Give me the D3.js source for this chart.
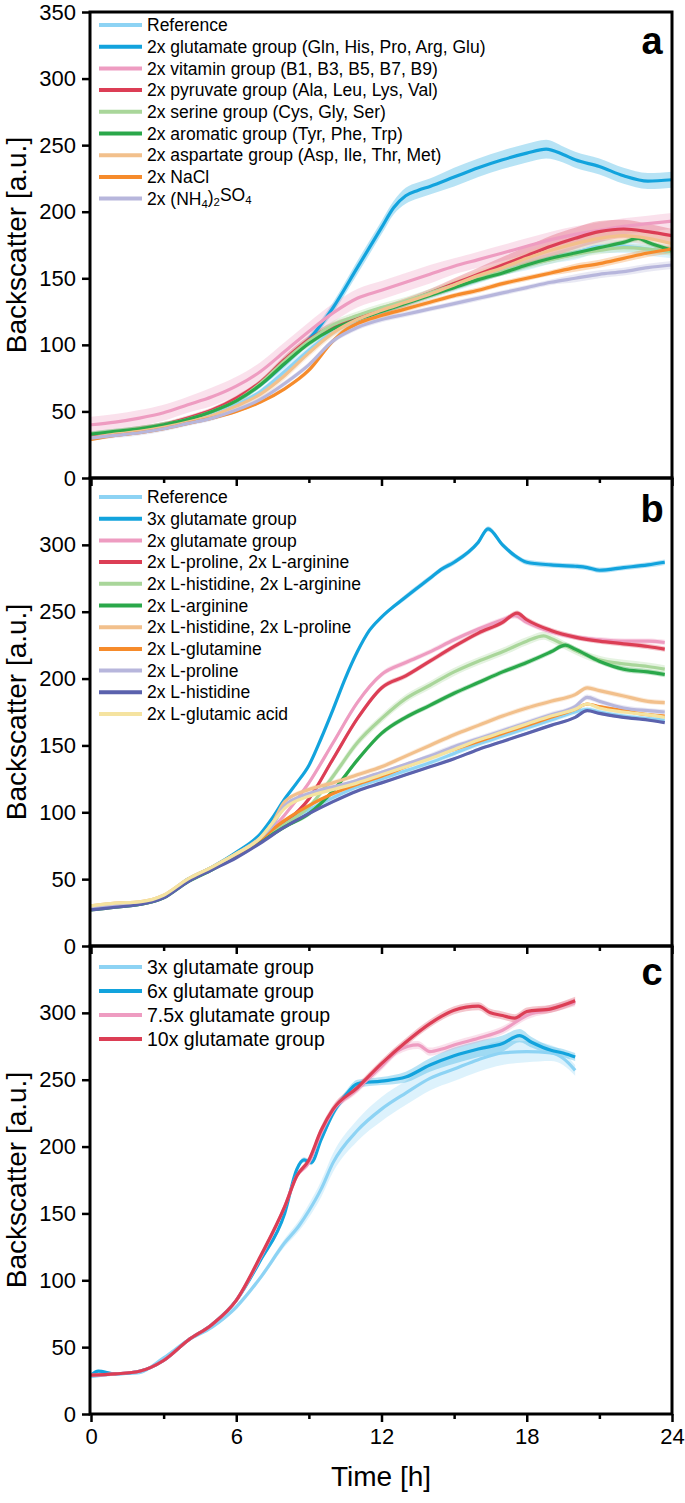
<!DOCTYPE html>
<html><head><meta charset="utf-8">
<script src="https://cdn.jsdelivr.net/npm/d3@7"></script>
<style>body{margin:0;background:#fff}svg{display:block;font-family:"Liberation Sans",Arial,sans-serif}</style>
</head><body><svg id="c" width="685" height="1503"></svg>
<script>
// ---------- DATA ----------
const xTicks = [0, 6, 12, 18, 24];
const xMinorTicks = [3, 9, 15, 21];
const yTicksA = [0, 50, 100, 150, 200, 250, 300, 350];
const yTicksBC = [0, 50, 100, 150, 200, 250, 300];
const panelLetters = ["a", "b", "c"];

// Panel a: [time h, backscatter, band half-width]
const aReference = [[0,32,2],[1,34,2],[2,36,2],[3,39,2],[4,43,2],[5,48,2],[6,55,2],[7,65,2],[8,80,3],[9,96,3],[10,110,3],[11,118,3],[12,125,3],[13,131,3],[14,137,3],[15,143,3],[16,149,3],[17,155,3],[18,160,4],[19,165,4],[20,169,5],[21,174,5],[22,174,5],[23,172,5],[24,170,5]];
const aGlutamate = [[0,32,2],[1,34,2],[2,36,2],[3,39,2],[4,44,2],[5,50,2],[6,58,2],[7,70,2],[8,86,3],[9,104,3],[10,128,4],[11,158,5],[12,188,5],[12.5,203,5],[13,212,6],[13.5,216,6],[14,219,6],[15,226,7],[16,233,7],[17,239,7],[18,244,7],[18.8,247,7],[19.5,243,6],[20,239,6],[21,234,6],[22,227,6],[23,223,6],[24,224,6]];
const aVitamin = [[0,40,6],[1,42,6],[2,45,6],[3,49,6],[4,55,6],[5,61,7],[6,69,7],[7,80,7],[8,95,7],[9,110,7],[10,124,7],[11,135,7],[12,141,7],[13,147,7],[14,153,7],[15,159,6],[16,164,6],[17,169,6],[18,174,6],[19,179,6],[20,183,6],[21,186,6],[22,189,6],[23,191,6],[24,193,6]];
const aPyruvate = [[0,31,2],[1,34,2],[2,37,2],[3,40,2],[4,45,2],[5,51,2],[6,60,2],[7,72,2],[8,89,3],[9,104,3],[10,114,3],[11,120,3],[12,126,3],[13,132,3],[14,139,3],[15,146,4],[16,153,5],[17,160,6],[18,167,7],[19,174,8],[20,180,8],[21,185,8],[22,187,7],[23,185,6],[24,182,5]];
const aSerine = [[0,33,2],[1,35,2],[2,37,2],[3,40,2],[4,44,2],[5,50,2],[6,58,2],[7,71,3],[8,88,3],[9,103,3],[10,115,3],[11,122,3],[12,128,3],[13,133,3],[14,139,3],[15,145,3],[16,150,3],[17,155,3],[18,160,3],[19,164,3],[20,168,3],[21,171,3],[22,173,3],[23,172,3],[24,170,3]];
const aAromatic = [[0,33,2],[1,35,2],[2,37,2],[3,40,2],[4,44,2],[5,50,2],[6,58,2],[7,70,2],[8,86,2],[9,101,2],[10,112,2],[11,119,2],[12,125,2],[13,131,2],[14,137,2],[15,143,2],[16,149,2],[17,154,2],[18,160,2],[19,165,2],[20,169,2],[21,173,2],[22,177,2],[22.6,180,2],[23,177,2],[24,171,2]];
const aAspartate = [[0,30,2],[1,33,2],[2,35,2],[3,38,2],[4,42,2],[5,47,2],[6,54,3],[7,63,3],[8,77,3],[9,94,3],[10,109,3],[11,119,3],[12,126,3],[13,132,3],[14,138,3],[15,145,4],[16,152,4],[17,158,4],[18,165,5],[19,171,5],[20,176,5],[21,180,5],[22,182,5],[23,180,5],[24,176,5]];
const aNaCl = [[0,29,1],[1,32,1],[2,34,1],[3,37,1],[4,41,1],[5,45,1],[6,50,1],[7,57,1],[8,67,1],[9,81,2],[10,103,2],[10.5,111,2],[11,116,2],[12,122,2],[13,127,2],[14,132,2],[15,137,2],[16,141,2],[17,146,2],[18,150,2],[19,154,2],[20,158,3],[21,161,3],[22,165,3],[23,169,3],[24,172,3]];
const aAmmonium = [[0,30,2],[1,32,2],[2,34,2],[3,37,2],[4,41,2],[5,45,2],[6,51,2],[7,59,2],[8,71,2],[9,85,2],[10,103,2],[11,113,2],[12,119,2],[13,123,2],[14,127,2],[15,131,2],[16,135,2],[17,139,2],[18,143,2],[19,147,2],[20,150,3],[21,153,3],[22,155,3],[23,158,3],[24,160,3]];

// Panel b
const bReference = [[0,29,1],[1,31,1],[2,32,1],[3,37,1],[4,49,1],[5,58,1],[6,68,1],[7,79,2],[8,92,2],[9,102,2],[10,111,2],[11,119,2],[12,125,2],[13,131,2],[14,137,2],[15,144,2],[16,151,2],[17,157,2],[18,163,2],[19,169,2],[20,175,2],[20.5,177,2],[21,175,2],[22,172,2],[23,170,2],[23.7,169,2]];
const bGlu3x = [[0,30,1],[1,31,1],[2,32,1],[3,37,1],[4,50,1],[5,59,1],[6,70,1],[7,84,1],[7.5,96,1],[8,110,1],[8.5,122,1],[9,135,1],[9.5,155,1],[10,177,1],[10.5,200,1],[11,220,1],[11.5,236,1],[12,246,1],[13,261,2],[14,275,2],[14.5,282,2],[15,287,2],[16,302,2],[16.4,312,2],[17,300,2],[17.5,292,2],[18,287,2],[19,285,2],[20,284,2],[20.5,283,2],[21,281,2],[22,283,2],[23,285,2],[23.7,287,2]];
const bGlu2x = [[0,29,1],[1,31,1],[2,32,1],[3,37,1],[4,49,1],[5,58,1],[6,68,1],[7,80,1],[7.5,88,1],[8,98,1],[9,122,2],[10,152,2],[11,182,2],[12,203,2],[13,212,2],[14,220,2],[15,229,2],[16,237,2],[17,244,2],[17.5,247,2],[18,242,2],[19,235,2],[20,231,2],[21,229,2],[22,228,2],[23,228,2],[23.7,227,2]];
const bProArg = [[0,28,1],[1,30,1],[2,32,1],[3,37,1],[4,49,1],[5,58,1],[6,68,1],[7,80,1],[8,92,1],[9,110,2],[10,140,2],[11,170,2],[12,193,2],[13,202,2],[14,213,2],[15,224,2],[16,234,2],[17,242,2],[17.6,249,2],[18,244,2],[19,236,2],[20,231,2],[21,228,2],[22,226,2],[23,224,2],[23.7,222,2]];
const bHisArg = [[0,29,1],[1,31,1],[2,32,1],[3,37,1],[4,49,1],[5,58,1],[6,68,1],[7,80,1],[8,91,2],[9,104,2],[10,127,3],[11,152,3],[12,170,3],[13,185,3],[14,195,3],[15,205,3],[16,213,3],[17,220,3],[18,228,3],[18.7,232,3],[19,230,3],[20,221,3],[21,214,3],[22,211,3],[23,209,3],[23.7,207,3]];
const bArg = [[0,27,1],[1,29,1],[2,31,1],[3,36,1],[4,48,1],[5,57,1],[6,67,1],[7,78,1],[8,89,1],[9,99,2],[10,116,2],[11,139,2],[12,159,2],[13,171,2],[14,180,2],[15,189,2],[16,197,2],[17,205,2],[18,212,2],[19,220,2],[19.6,225,2],[20,222,2],[21,213,2],[22,207,2],[23,205,2],[23.7,203,2]];
const bHisPro = [[0,30,1],[1,32,1],[2,33,1],[3,38,1],[4,50,1],[5,59,1],[6,69,1],[7,81,1],[7.5,92,1],[8,108,1],[9,117,2],[10,122,2],[11,128,2],[12,134,2],[13,142,2],[14,150,2],[15,158,2],[16,165,2],[17,172,2],[18,178,2],[19,183,2],[20,188,2],[20.5,193,2],[21,191,2],[22,187,2],[23,183,2],[23.7,182,2]];
const bGln = [[0,29,1],[1,31,1],[2,32,1],[3,37,1],[4,49,1],[5,58,1],[6,68,1],[7,80,1],[8,94,1],[9,105,1],[10,114,1],[11,121,1],[12,127,1],[13,134,1],[14,141,1],[15,147,1],[16,153,1],[17,159,1],[18,165,1],[19,171,1],[20,177,1],[20.5,181,1],[21,179,1],[22,176,1],[23,173,1],[23.7,172,1]];
const bPro = [[0,29,1],[1,31,1],[2,32,1],[3,37,1],[4,49,1],[5,58,1],[6,69,1],[7,81,1],[7.5,90,1],[8,105,1],[9,114,1],[10,119,1],[11,124,1],[12,130,1],[13,136,1],[14,142,2],[15,149,2],[16,155,2],[17,161,2],[18,167,2],[19,173,2],[20,179,2],[20.5,186,2],[21,183,2],[22,178,2],[23,176,2],[23.7,175,2]];
const bHis = [[0,27,1],[1,29,1],[2,31,1],[3,36,1],[4,48,1],[5,57,1],[6,66,1],[7,77,1],[8,89,1],[9,99,1],[10,108,1],[11,116,1],[12,122,1],[13,128,1],[14,134,1],[15,140,1],[16,147,1],[17,153,1],[18,159,1],[19,165,1],[20,171,1],[20.5,176,1],[21,174,1],[22,171,1],[23,169,1],[23.7,167,1]];
const bGlutamic = [[0,30,1],[1,32,1],[2,33,1],[3,38,1],[4,50,1],[5,59,1],[6,69,1],[7,81,1],[7.5,92,1],[8,103,1],[9,112,1],[10,117,1],[11,122,1],[12,128,1],[13,134,1],[14,140,1],[15,147,1],[16,154,1],[17,160,1],[18,166,1],[19,172,1],[20,177,1],[20.5,181,1],[21,178,1],[22,175,1],[23,173,1],[23.7,171,1]];

// Panel c
const cGlu3x = [[0,28,1],[1,30,1],[2,31,1],[3,42,1],[4,55,1],[5,65,1],[6,80,2],[7,102,2],[8,128,3],[8.6,141,4],[9,152,5],[9.5,168,6],[10,188,7],[11,212,8],[12,228,9],[13,240,9],[14,251,9],[15,258,9],[16,265,9],[17,270,9],[18,271,8],[19,270,6],[19.5,266,5],[20,257,4]];
const cGlu6x = [[0,29,1],[0.3,32,1],[1,30,1],[2,32,1],[3,40,1],[4,55,1],[5,67,1],[6,85,1],[7,115,2],[8,150,2],[8.5,183,2],[8.8,190,2],[9.1,188,2],[9.5,205,2],[10,225,3],[10.5,238,3],[11,247,3],[12,249,3],[13,252,4],[14,261,5],[15,268,6],[16,273,6],[17,277,6],[17.7,283,5],[18.2,278,4],[19,272,3],[19.5,270,3],[20,267,3]];
const cGlu75x = [[0,29,1],[1,30,1],[2,32,1],[3,40,1],[4,55,1],[5,67,1],[6,85,1],[7,117,2],[8,155,2],[8.5,178,2],[9,188,2],[9.5,210,3],[10,227,3],[11,243,3],[12,260,3],[12.7,272,3],[13.5,276,3],[14,271,3],[14.5,273,3],[15,276,3],[16,281,3],[17,287,3],[18,298,3],[19,303,3],[20,308,3]];
const cGlu10x = [[0,29,1],[1,30,1],[2,32,1],[3,40,1],[4,55,1],[5,67,1],[6,85,1],[7,118,2],[8,155,2],[8.5,178,2],[9,190,2],[9.5,212,3],[10,228,3],[11,244,3],[12,262,3],[13,278,3],[14,292,3],[15,302,3],[16,305,3],[16.5,300,3],[17,298,3],[17.5,296,3],[18,301,3],[19,303,3],[20,309,3]];

const namesA = ["Reference", "2x glutamate group (Gln, His, Pro, Arg, Glu)", "2x vitamin group (B1, B3, B5, B7, B9)", "2x pyruvate group (Ala, Leu, Lys, Val)", "2x serine group (Cys, Gly, Ser)", "2x aromatic group (Tyr, Phe, Trp)", "2x aspartate group (Asp, Ile, Thr, Met)", "2x NaCl", "2x (NH4)2SO4"];
const namesB = ["Reference", "3x glutamate group", "2x glutamate group", "2x L-proline, 2x L-arginine", "2x L-histidine, 2x L-arginine", "2x L-arginine", "2x L-histidine, 2x L-proline", "2x L-glutamine", "2x L-proline", "2x L-histidine", "2x L-glutamic acid"];
const namesC = ["3x glutamate group", "6x glutamate group", "7.5x glutamate group", "10x glutamate group"];

const colorsA = ["#8dd3f4", "#12a3dd", "#ee9cc1", "#dc3e55", "#a9d69a", "#2aa84a", "#f2c08c", "#f68b2b", "#b7b6dc"];
const colorsB = ["#8dd3f4", "#12a3dd", "#ee9cc1", "#dc3e55", "#a9d69a", "#2aa84a", "#f2c08c", "#f68b2b", "#b7b6dc", "#5b62ad", "#f5e3a0"];
const colorsC = ["#8dd3f4", "#12a3dd", "#ee9cc1", "#dc3e55"];

const seriesA = [aReference, aGlutamate, aVitamin, aPyruvate, aSerine, aAromatic, aAspartate, aNaCl, aAmmonium];
const seriesB = [bReference, bGlu3x, bGlu2x, bProArg, bHisArg, bArg, bHisPro, bGln, bPro, bHis, bGlutamic];
const seriesC = [cGlu3x, cGlu6x, cGlu75x, cGlu10x];

// ---------- LAYOUT ----------
const svg = d3.select("#c");
const L = 90, R = 672;
const panels = [
  {top: 12, bottom: 478, series: seriesA, names: namesA, colors: colorsA, yTicks: yTicksA, legY: 25, legDy: 21.7, legFont: 17.5, letterY: 54},
  {top: 478, bottom: 946, series: seriesB, names: namesB, colors: colorsB, yTicks: yTicksBC, legY: 497, legDy: 21.7, legFont: 17.5, letterY: 522},
  {top: 946, bottom: 1414, series: seriesC, names: namesC, colors: colorsC, yTicks: yTicksBC, legY: 967, legDy: 24, legFont: 19.5, letterY: 985}
];
const x = d3.scaleLinear().domain([0, 24]).range([L + 1, R]);

panels.forEach((p, pi) => {
  const y = d3.scaleLinear().domain([0, 350]).range([p.bottom, p.top]);
  const g = svg.append("g");
  const clipId = "clip" + pi;
  svg.append("clipPath").attr("id", clipId).append("rect")
    .attr("x", L).attr("y", p.top).attr("width", R - L).attr("height", p.bottom - p.top);
  const plot = g.append("g").attr("clip-path", `url(#${clipId})`);
  const area = d3.area().x(d => x(d[0])).y0(d => y(d[1] - d[2])).y1(d => y(d[1] + d[2])).curve(d3.curveMonotoneX);
  const line = d3.line().x(d => x(d[0])).y(d => y(d[1])).curve(d3.curveMonotoneX);
  p.series.forEach((s, i) => {
    plot.append("path").attr("d", area(s)).attr("fill", p.colors[i]).attr("opacity", 0.3);
  });
  p.series.forEach((s, i) => {
    plot.append("path").attr("d", line(s)).attr("fill", "none").attr("stroke", p.colors[i])
      .attr("stroke-width", 3.2).attr("stroke-linejoin", "round");
  });

  // frame
  g.append("rect").attr("x", L).attr("y", p.top).attr("width", R - L).attr("height", p.bottom - p.top)
    .attr("fill", "none").attr("stroke", "#000").attr("stroke-width", 3);

  // y axis
  const yAxis = d3.axisLeft(y).tickValues(p.yTicks).tickSize(8).tickPadding(6).tickFormat(d3.format("d"));
  const ya = g.append("g").attr("transform", `translate(${L},0)`).call(yAxis);
  ya.select(".domain").remove();
  ya.selectAll(".tick line").attr("stroke", "#000").attr("stroke-width", 2.5);
  ya.selectAll(".tick text").attr("font-size", 22).attr("fill", "#000").attr("font-family", "Liberation Sans, Arial, sans-serif");

  // x axis ticks (bottom)
  const xa = g.append("g").attr("transform", `translate(0,${p.bottom})`)
    .call(d3.axisBottom(x).tickValues(xTicks).tickSize(8).tickPadding(6).tickFormat(d3.format("d")));
  xa.select(".domain").remove();
  xa.selectAll(".tick line").attr("stroke", "#000").attr("stroke-width", 2.5);
  xa.selectAll(".tick text").attr("font-size", 22).attr("fill", "#000").attr("font-family", "Liberation Sans, Arial, sans-serif");
  if (pi < 2) xa.selectAll(".tick text").remove();
  const xm = g.append("g").attr("transform", `translate(0,${p.bottom})`)
    .call(d3.axisBottom(x).tickValues(xMinorTicks).tickSize(5).tickFormat(""));
  xm.select(".domain").remove();
  xm.selectAll(".tick line").attr("stroke", "#000").attr("stroke-width", 2.5);

  // y label
  g.append("text").attr("transform", `translate(26,${(p.top + p.bottom) / 2}) rotate(-90)`)
    .attr("text-anchor", "middle").attr("font-size", 28).text("Backscatter [a.u.]");

  // panel letter
  g.append("text").attr("x", 652).attr("y", p.letterY).attr("text-anchor", "middle")
    .attr("font-size", 38).attr("font-weight", "bold").text(panelLetters[pi]);

  // legend
  const leg = g.append("g");
  p.names.forEach((n, i) => {
    const ly = p.legY + i * p.legDy;
    leg.append("line").attr("x1", 99).attr("x2", 142).attr("y1", ly).attr("y2", ly)
      .attr("stroke", p.colors[i]).attr("stroke-width", 4);
    const t = leg.append("text").attr("x", 147).attr("y", ly).attr("dy", "0.35em").attr("font-size", p.legFont);
    if (n.indexOf("(NH4)2SO4") >= 0) {
      t.append("tspan").text("2x (NH");
      t.append("tspan").text("4").attr("font-size", p.legFont * 0.65).attr("dy", "0.3em");
      t.append("tspan").text(")").attr("dy", "-0.3em");
      t.append("tspan").text("2").attr("font-size", p.legFont * 0.65).attr("dy", "0.3em");
      t.append("tspan").text("SO").attr("dy", "-0.3em");
      t.append("tspan").text("4").attr("font-size", p.legFont * 0.65).attr("dy", "0.3em");
    } else {
      t.text(n);
    }
  });
});

svg.append("text").attr("x", (L + R) / 2).attr("y", 1486).attr("text-anchor", "middle")
  .attr("font-size", 28).text("Time [h]");
</script></body></html>
